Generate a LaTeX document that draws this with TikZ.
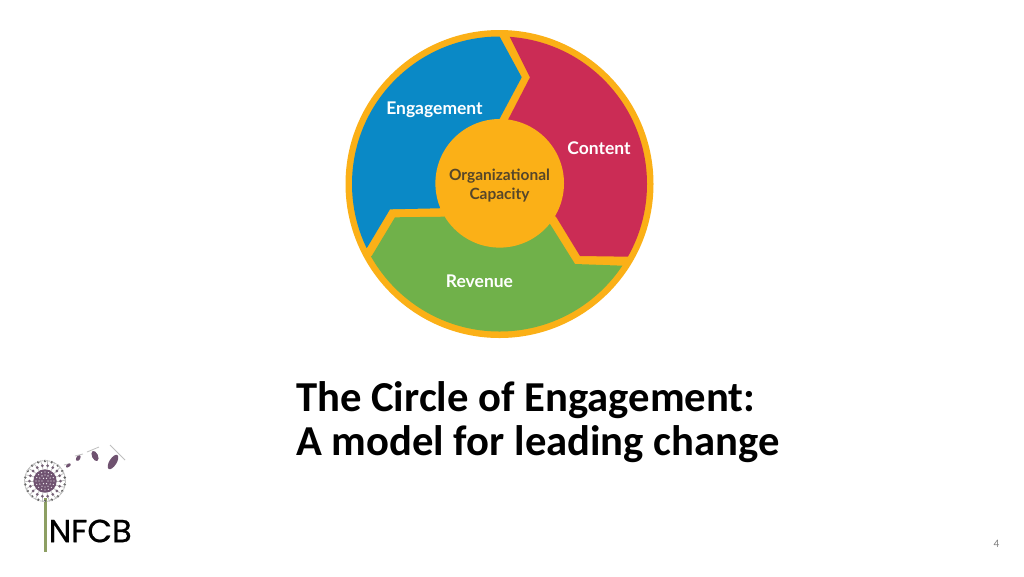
\documentclass[tikz,border=0pt]{standalone}
\usepackage{fontspec}
\setmainfont{Carlito}
\newfontfamily\latof{Lato}
\newfontfamily\logof{Poppins}
\definecolor{ringor}{HTML}{FBB017}
\definecolor{blueseg}{HTML}{0A89C6}
\definecolor{redseg}{HTML}{CB2C55}
\definecolor{greenseg}{HTML}{70B14A}
\definecolor{darktxt}{HTML}{56462A}
\definecolor{purp}{HTML}{6F5270}
\definecolor{stem}{HTML}{8D9F63}
\tikzset{
  x=0.75pt,y=-0.75pt,
  seglabel/.style={text=white,font=\latof\bfseries\fontsize{13.1}{15}\selectfont,inner sep=0pt,anchor=center},
  seed/.style={fill=purp,draw=none},
  hair/.style={draw=gray!50,line width=0.6pt},
}
\begin{document}
\begin{tikzpicture}
\useasboundingbox (0,0) rectangle (1024,576);
\fill[white] (0,0) rectangle (1024,576);
\coordinate (c) at (499.5,184);
% ring
\fill[ringor] (c) circle[radius=154];
\begin{scope}
\clip (c) circle[radius=147.5];
\fill[blueseg] (499.3,20) -- (499.3,36) -- (521.7,77.3) -- (499.3,119.3) -- (499.5,184) -- (439.3,208.3) -- (390,209.3) -- (367.3,247.3) -- (330,270) -- (330,20) -- cycle;
\fill[redseg] (509.3,20) -- (509.3,36) -- (530,77.3) -- (508.3,119.3) -- (499.5,184) -- (556,216.7) -- (580,256) -- (628.3,256.7) -- (660,262) -- (670,20) -- cycle;
\fill[greenseg] (360,262) -- (371.7,256) -- (395,217.3) -- (444,216.7) -- (499.5,184) -- (550,224) -- (575,264) -- (622.7,265.7) -- (660,266) -- (660,345) -- (340,345) -- cycle;
\end{scope}
\fill[ringor] (499.7,183.3) circle[radius=64.3];
\node[seglabel] (eng) at (434.5,110) {Engagement};
\node[seglabel] (con) at (599,148) {Content};
\node[seglabel] (rev) at (479.5,281) {Revenue};
\node[text=darktxt,font=\latof\bfseries\fontsize{11.6}{14.2}\selectfont,align=center,inner sep=0pt,anchor=center] (org) at (499.5,186) {Organizational\\Capacity};
% title
\node[anchor=west,inner sep=0pt,font=\bfseries\fontsize{32}{33.2}\selectfont,align=left] (title) at (296,422.5) {The Circle of Engagement:\\A model for leading change};
\node[text=gray,font=\fontsize{8.5}{10}\selectfont,inner sep=0pt] (pg) at (996.5,544) {4};
% logo
\draw[stem,line width=2.4pt] (45.5,498) -- (45.5,552);
\foreach \i in {0,1,...,17}{
  \draw[hair] (45,481) ++({\i*20}:11) -- ++({\i*20}:5);
  \draw[hair] (45,481) ++({\i*20-10}:20.5) arc[start angle=\i*20-10,end angle=\i*20+5,radius=20.5];
  \draw[hair] (45,481) ++({\i*20}:15.5) -- ++({\i*20-10}:5.5);
  \fill[purp!70!gray] (45,481) ++({\i*20}:15.5) circle[radius=1.5];
  \fill[gray!75!black] (45,481) ++({\i*20+10}:20) circle[radius=1.4];
}
\fill[purp] (45,481) circle[radius=11.7];
\foreach \r/\n in {3/6,6/12,9/16}{
  \foreach \i in {1,...,\n}{\fill[white!85!purp] (45,481) ++({\i*360/\n}:\r) circle[radius=0.7];}
}
\draw[hair] (64,465) -- (70,463.5);
\fill[seed,rotate around={35:(68.3,465.5)}] (68.3,465.5) ellipse[x radius=2.8,y radius=1.5];
\fill[seed,rotate around={60:(78.3,458)}] (78.3,458) ellipse[x radius=3.2,y radius=2];
\draw[hair] (75,456) -- (83,454);
\fill[seed,rotate around={-65:(95,456)}] (95,456) ellipse[x radius=5.5,y radius=3];
\draw[hair] (87,452) -- (99,447);
\fill[seed,rotate around={58:(113,462)}] (113,462) ellipse[x radius=8.2,y radius=3.6];
\draw[hair] (110,445) -- (125,460);
\node[anchor=west,inner sep=0pt,text=black,font=\logof\fontsize{24}{26}\selectfont\addfontfeature{FakeBold=0.6},] (nfcb) at (48.5,531) {NFCB};
\end{tikzpicture}
\end{document}
